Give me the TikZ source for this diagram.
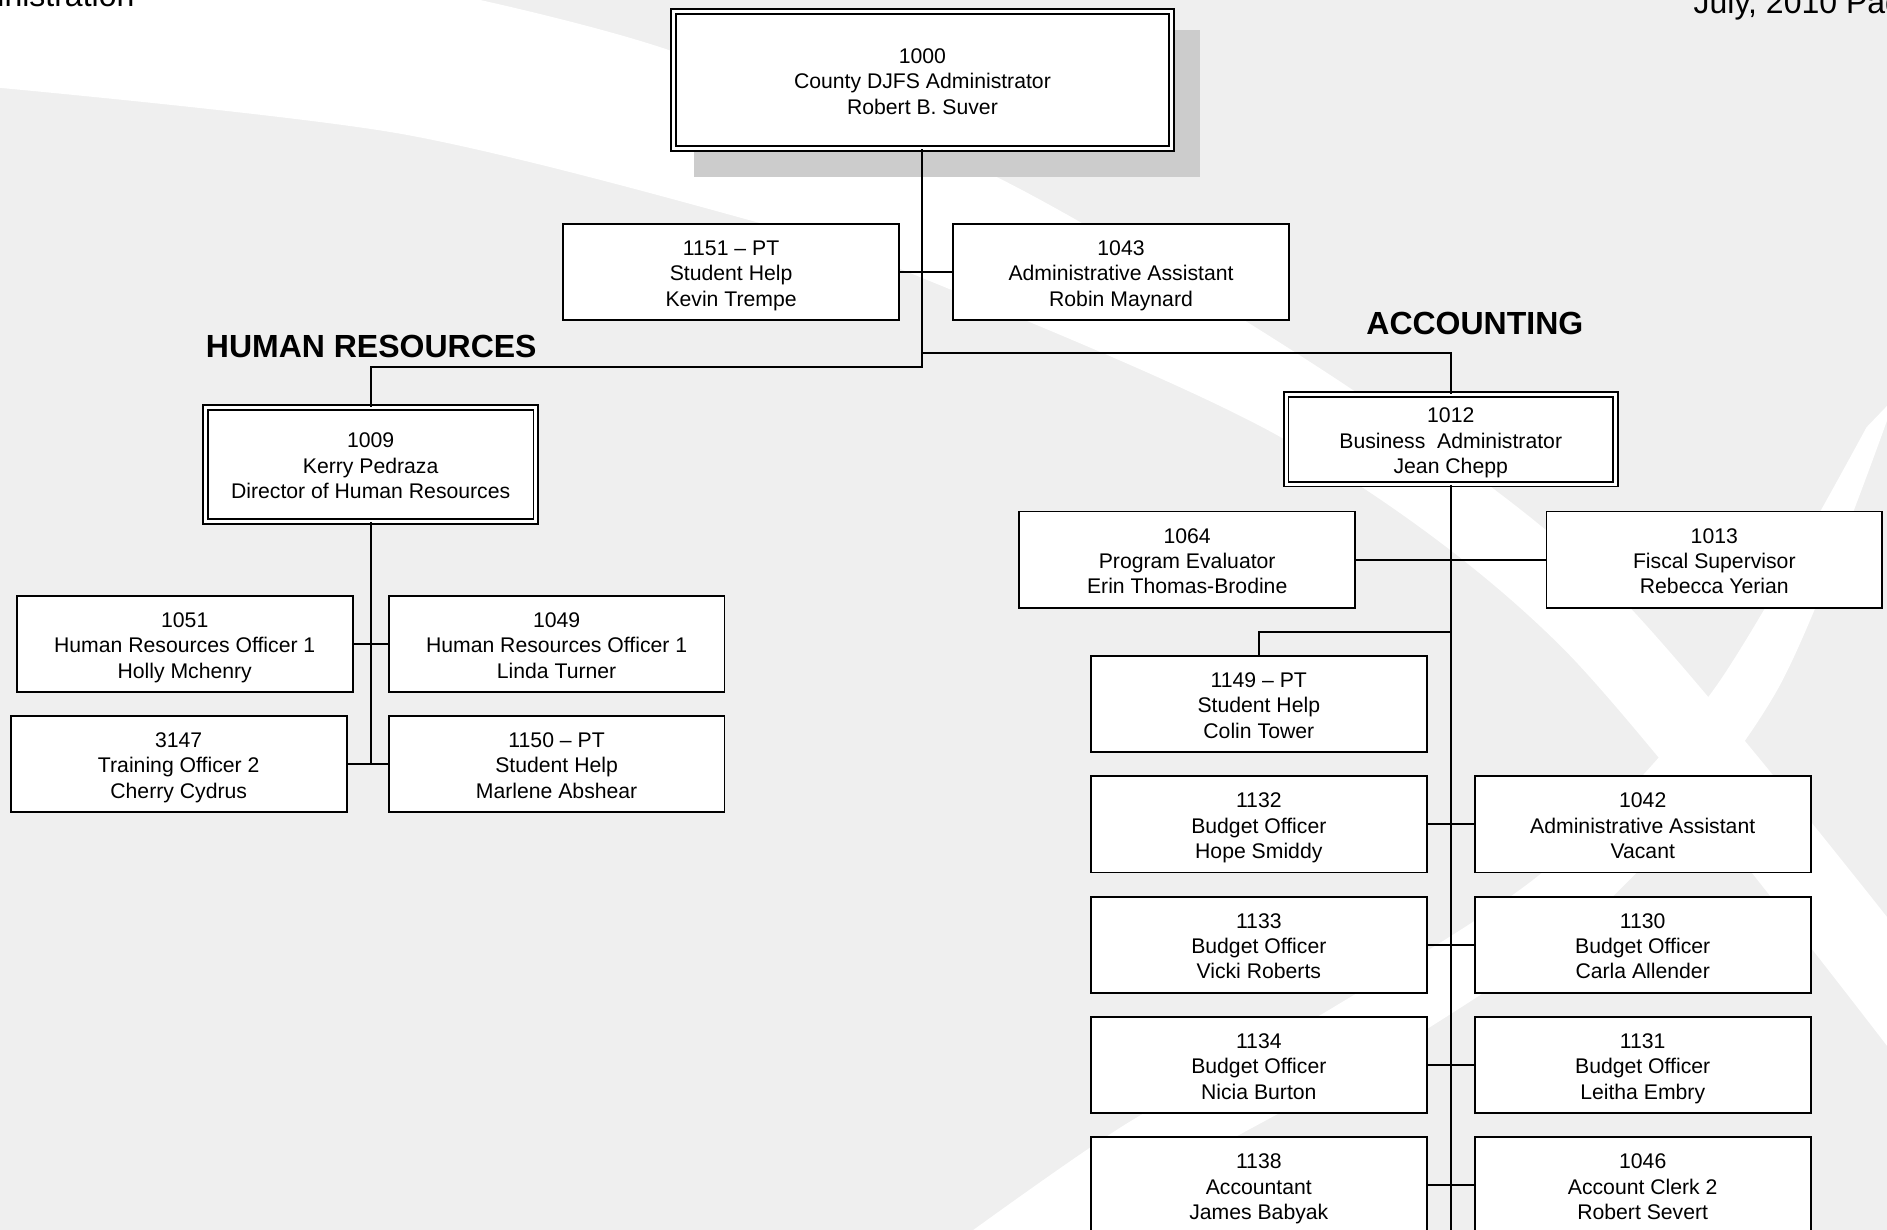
\documentclass[tikz,border=0pt]{standalone}
\usepackage{fontspec}
\setmainfont{Liberation Sans}
\definecolor{bggray}{HTML}{EFEFEF}
\definecolor{shadowgray}{HTML}{CCCCCC}
\newcommand\boxfont{\fontsize{10.6}{12.7}\selectfont}
\newcommand\bxt[3]{\rule{0pt}{12.6pt}#1\\#2\\#3\rule[-3.8pt]{0pt}{3.8pt}}
\begin{document}
\begin{tikzpicture}[x=0.6017pt,y=-0.6017pt,
  box/.style={draw=black, fill=white, line width=0.9pt, minimum width=167.9pt, minimum height=48.1pt, inner sep=0pt, align=center, font=\boxfont},
  dbox/.style={box, double=white, double distance=1.5pt, line width=0.9pt},
  conn/.style={line width=1pt, draw=black},
  heading/.style={font=\fontsize{16}{19}\selectfont\bfseries, inner sep=0pt},
  header/.style={font=\fontsize{16}{19}\selectfont, inner sep=0pt}]
\useasboundingbox (0,0) rectangle (1568,1022);
\clip (0,0) rectangle (1568,1022);
% background
\fill[bggray] (0,0) rectangle (1568,1022);
\fill[white] (0,0) -- plot[smooth] coordinates {(399,0) (557,42) (828,147) (1124,324) (1340,490) (1568,762)}
  -- (1600,762) -- (1600,869) -- plot[smooth] coordinates {(1568,869) (1300,540) (1069,366) (764,230) (623,183) (332,111) (0,73)} -- cycle;
\fill[white] plot[smooth] coordinates {(1575,330) (1477,573) (1340,745) (1170,865) (1000,960) (880,1040)}
  -- plot[smooth] coordinates {(784,1040) (934,935) (1108,837) (1284,723) (1424,573) (1551,355)} -- cycle;
% page header
\node[header, anchor=base east] (hdrl) at (112,5) {Administration};
\node[header, anchor=base west] (hdrr) at (1407,11) {July, 2010 Page};
% shadow
\fill[shadowgray] (577,25) rectangle (997,147);
% nodes
\node[dbox, minimum width=248.8pt, minimum height=68.3pt] (n1000) at (766.5,66.5) {\bxt{1000}{County DJFS Administrator}{Robert B. Suver}};
\node[box] (n1151) at (607.5,226) {\bxt{1151 – PT}{Student Help}{Kevin Trempe}};
\node[box] (n1043) at (931.5,226) {\bxt{1043}{Administrative Assistant}{Robin Maynard}};
\node[heading] (hr) at (308.5,288) {HUMAN RESOURCES};
\node[heading] (acc) at (1225.5,269) {ACCOUNTING};
\node[dbox, minimum width=165.2pt, minimum height=56.9pt] (n1009) at (308,386) {\bxt{1009}{Kerry Pedraza}{Director of Human Resources}};
\node[box] (n1051) at (153.5,535) {\bxt{1051}{Human Resources Officer 1}{Holly Mchenry}};
\node[box] (n1049) at (462.5,535) {\bxt{1049}{Human Resources Officer 1}{Linda Turner}};
\node[box] (n3147) at (148.5,635) {\bxt{3147}{Training Officer 2}{Cherry Cydrus}};
\node[box] (n1150) at (462.5,635) {\bxt{1150 – PT}{Student Help}{Marlene Abshear}};
\node[dbox, minimum width=164.6pt, minimum height=44.8pt] (n1012) at (1205.5,365) {\bxt{1012}{Business~ Administrator}{Jean Chepp}};
\node[box] (n1064) at (986.5,465) {\bxt{1064}{Program Evaluator}{Erin Thomas-Brodine}};
\node[box] (n1013) at (1424.5,465) {\bxt{1013}{Fiscal Supervisor}{Rebecca Yerian}};
\node[box] (n1149) at (1046,585) {\bxt{1149 – PT}{Student Help}{Colin Tower}};
\node[box] (n1132) at (1046,685) {\bxt{1132}{Budget Officer}{Hope Smiddy}};
\node[box] (n1042) at (1365,685) {\bxt{1042}{Administrative Assistant}{Vacant}};
\node[box] (n1133) at (1046,785) {\bxt{1133}{Budget Officer}{Vicki Roberts}};
\node[box] (n1130) at (1365,785) {\bxt{1130}{Budget Officer}{Carla Allender}};
\node[box] (n1134) at (1046,885) {\bxt{1134}{Budget Officer}{Nicia Burton}};
\node[box] (n1131) at (1365,885) {\bxt{1131}{Budget Officer}{Leitha Embry}};
\node[box] (n1138) at (1046,985) {\bxt{1138}{Accountant}{James Babyak}};
\node[box] (n1046) at (1365,985) {\bxt{1046}{Account Clerk 2}{Robert Severt}};
% connectors
\draw[conn] (n1000.south) -- (n1000.south |- 0,305) -| (n1009.north);
\coordinate (accj) at (n1000.south |- 0,293);
\draw[conn] (accj) -| (n1012.north);
\draw[conn] (n1151.east) -- (n1043.west);
\draw[conn] (n1009.south) -- (n1009.south |- n3147.east);
\draw[conn] (n1051.east) -- (n1049.west);
\draw[conn] (n3147.east) -- (n1150.west);
\coordinate (accbot) at (n1012.south |- 0,1040);
\draw[conn] (n1012.south) -- (accbot);
\draw[conn] (n1064.east) -- (n1013.west);
\coordinate (stj) at (n1012.south |- 0,525);
\draw[conn] (stj) -| (n1149.north);
\draw[conn] (n1132.east) -- (n1042.west);
\draw[conn] (n1133.east) -- (n1130.west);
\draw[conn] (n1134.east) -- (n1131.west);
\draw[conn] (n1138.east) -- (n1046.west);
\end{tikzpicture}
\end{document}
